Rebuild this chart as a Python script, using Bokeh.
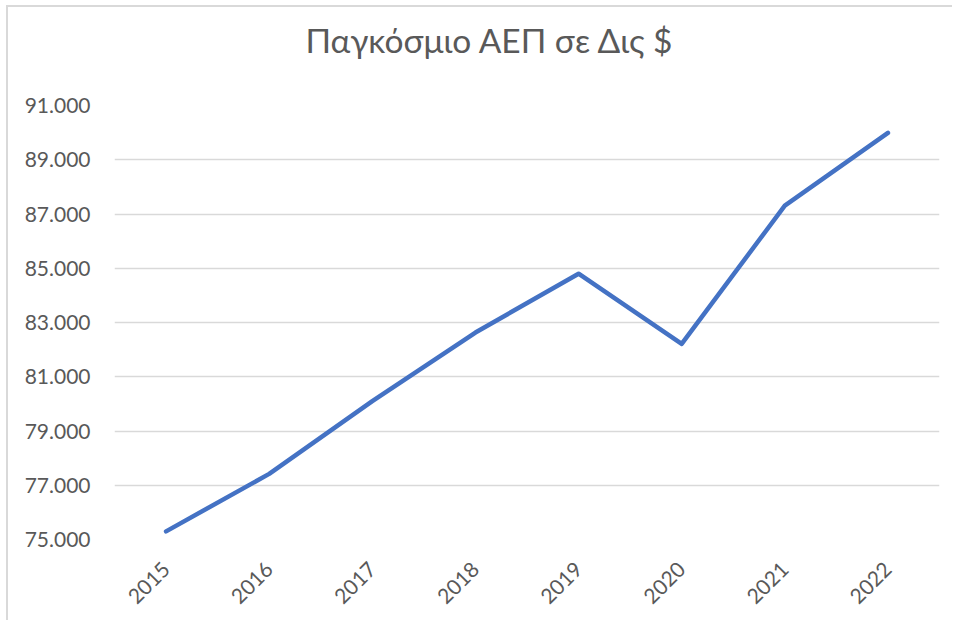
import math
from bokeh.plotting import figure
from bokeh.models import Range1d, FixedTicker
from bokeh.embed import file_html
from bokeh.resources import INLINE

years = ["2015", "2016", "2017", "2018", "2019", "2020", "2021", "2022"]
gdp = [75300, 77420, 80100, 82630, 84800, 82210, 87310, 89990]
y_ticks = [75000, 77000, 79000, 81000, 83000, 85000, 87000, 89000, 91000]
y_tick_labels = ["75.000", "77.000", "79.000", "81.000", "83.000", "85.000", "87.000", "89.000", "91.000"]
title_text = "Παγκόσμιο ΑΕΠ σε Δις $"

FONT = "Lato"
GRAY = "#595959"

p = figure(width=946, height=615, x_range=years, y_range=Range1d(75000, 91000),
           output_backend="svg", toolbar_location=None,
           min_border_left=106, min_border_right=15, min_border_top=98, min_border_bottom=83)

p.title.text = title_text
p.title.align = "left"
p.title.offset = 191
p.title.text_font = FONT
p.title.text_font_size = "33.5px"
p.title.text_font_style = "normal"
p.title.text_color = GRAY
p.title.standoff = 0
p.title.padding = dict(top=0, right=0, bottom=46, left=0)

p.line(years, gdp, line_color="#4472C4", line_width=4.5, line_join="round", line_cap="round")

p.yaxis.ticker = FixedTicker(ticks=y_ticks)
p.yaxis.major_label_overrides = {t: l for t, l in zip(y_ticks, y_tick_labels)}
for ax in (p.xaxis[0], p.yaxis[0]):
    ax.axis_line_color = None
    ax.major_tick_line_color = None
    ax.minor_tick_line_color = None
    ax.major_label_text_font = FONT
    ax.major_label_text_font_size = "21px"
    ax.major_label_text_color = GRAY
p.yaxis.major_label_standoff = 18
p.xaxis.major_label_orientation = math.pi / 4
p.xaxis.major_label_standoff = 20

p.xgrid.grid_line_color = None
p.ygrid.grid_line_color = "#d9d9d9"
p.ygrid.grid_line_width = 1.3
p.outline_line_color = None
p.styles = {"margin-left": "6px", "margin-top": "5px",
            "border-top": "2px solid #d9d9d9", "border-left": "2px solid #d9d9d9"}

open("out.html", "w").write(file_html(p, INLINE))
